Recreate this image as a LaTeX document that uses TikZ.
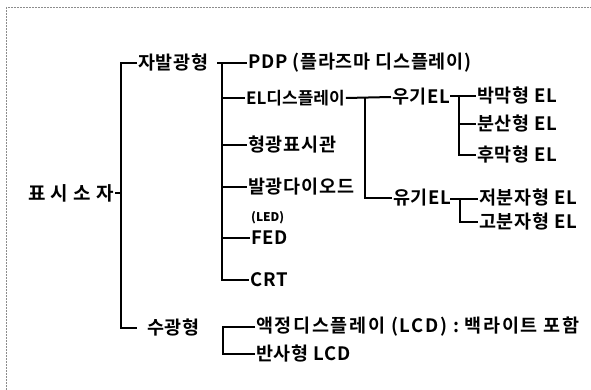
\documentclass[tikz,border=0pt]{standalone}
\usepackage{fontspec}
\setmainfont{Noto Sans CJK KR}
\newfontfamily\ko[LetterSpace=4,BoldFont={Noto Sans CJK KR Bold}]{Noto Sans CJK KR}
\newfontfamily\kowide[LetterSpace=28,BoldFont={Noto Sans CJK KR Bold}]{Noto Sans CJK KR}
\newfontfamily\komid[LetterSpace=9,BoldFont={Noto Sans CJK KR Bold}]{Noto Sans CJK KR}
\newfontfamily\kotight[LetterSpace=0,BoldFont={Noto Sans CJK KR Bold}]{Noto Sans CJK KR}
\begin{document}
\begin{tikzpicture}[x=1pt,y=-1pt,
  lbl/.style={anchor=west,inner sep=1pt,font=\fontsize{18.5}{20}\ko\bfseries},
  ln/.style={line width=2pt,draw=black},
  frame/.style={draw=black!45,line width=0.7pt,dash pattern=on 2pt off 1pt}]
\useasboundingbox (0,0) rectangle (591,390);
\begin{scope}
\clip (0,0) rectangle (591,390);
\draw[frame] (6,7) rectangle (640,440);
\end{scope}
% level 0
\node[lbl,font=\fontsize{19}{20}\kowide\bfseries] (root) at (27,193) {표시소자};
\coordinate (mtop) at (121,63);
\coordinate (mmid) at (121,193);
\coordinate (mbot) at (121,328);
% level 1
\node[lbl] (a1) at (137,63) {자발광형};
\node[lbl] (a2) at (146,328) {수광형};
\draw[ln] (root.east) -- (mmid);
\draw[ln] (a1.west) -- (mtop) -- (mbot) -- ([xshift=-9pt]a2.west);
% level 2 (self-emitting)
\node[lbl] (pdp) at (247,63) {PDP (플라즈마 디스플레이)};
\node[lbl,font=\fontsize{17}{19}\kotight\bfseries] (el) at (245,98) {EL디스플레이};
\node[lbl] (vfd) at (247,145) {형광표시관};
\node[lbl] (led) at (247,187) {발광다이오드};
\node[lbl,font=\fontsize{12}{13}\selectfont\bfseries] (ledt) at (250,218) {(LED)};
\node[lbl] (fed) at (250,238) {FED};
\node[lbl] (crt) at (249,280) {CRT};
\coordinate (t2l) at (217,63);
\coordinate (v2) at (222,63);
\draw[ln] (t2l) -- (pdp.west);
\draw[ln] (v2) |- (crt.west);
\draw[ln] (el.west -| v2) -- (el.west);
\draw[ln] (vfd.west -| v2) -- (vfd.west);
\draw[ln] (led.west -| v2) -- (led.west);
\draw[ln] (fed.west -| v2) -- (fed.west);
% EL branch
\node[lbl] (uel) at (391,97) {우기EL};
\node[lbl] (oel) at (392,198) {유기EL};
\coordinate (v3) at (365,97);
\draw[ln] (el.east) -- (uel.west);
\draw[ln] (v3) |- (oel.west);
% inorganic EL
\node[lbl] (e1) at (476,96) {박막형 EL};
\node[lbl] (e2) at (476,124) {분산형 EL};
\node[lbl] (e3) at (476,155) {후막형 EL};
\coordinate (t4l) at (450,96);
\coordinate (v4) at (459,96);
\draw[ln] (t4l) -- (e1.west);
\draw[ln] (v4) |- (e3.west);
\draw[ln] (e2.west -| v4) -- (e2.west);
% organic EL
\node[lbl] (o1) at (478,198) {저분자형 EL};
\node[lbl] (o2) at (478,222) {고분자형 EL};
\coordinate (t5l) at (450,199);
\coordinate (v5) at (460,199);
\draw[ln] (t5l) -- (o1.west |- t5l);
\draw[ln] (v5) |- (o2.west);
% non-emitting
\node[lbl,font=\fontsize{18.5}{20}\komid\bfseries] (l1) at (255,327) {액정디스플레이 (LCD) : 백라이트 포함};
\node[lbl] (l2) at (255,354) {반사형 LCD};
\coordinate (v6) at (223,327);
\draw[ln] (l1.west) -- (v6) |- (l2.west);
\end{tikzpicture}
\end{document}
